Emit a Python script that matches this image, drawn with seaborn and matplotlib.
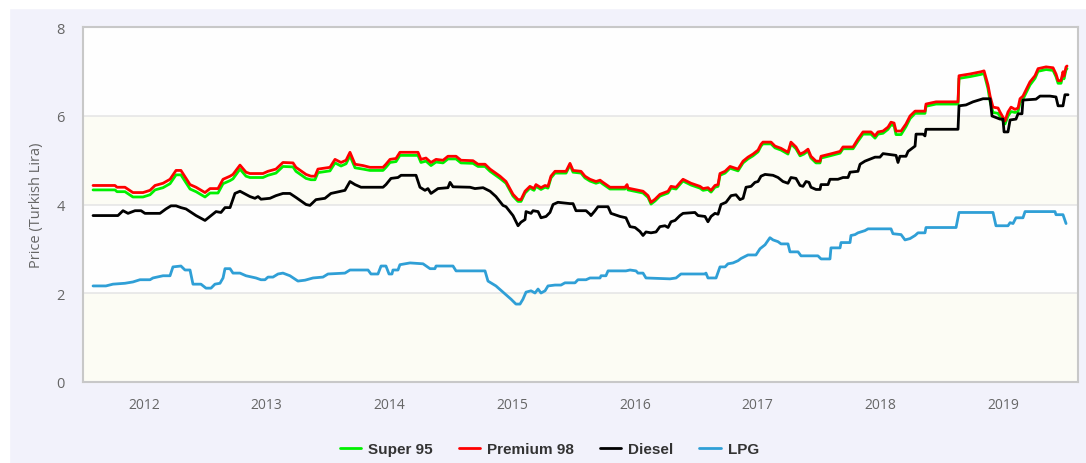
import numpy as np
import pandas as pd
import seaborn as sns
import matplotlib.pyplot as plt
from matplotlib.lines import Line2D
from matplotlib.patches import Rectangle

# gasoline prices (Super 95 / Premium 98 share the same change dates)
fuel_dates = [
    2011.585, 2011.764, 2011.780, 2011.845, 2011.910, 2011.992, 2012.049, 2012.090, 2012.155, 2012.212,
    2012.261, 2012.301, 2012.375, 2012.424, 2012.497, 2012.538, 2012.603, 2012.644, 2012.701, 2012.725,
    2012.782, 2012.831, 2012.863, 2012.969, 2013.010, 2013.075, 2013.132, 2013.214, 2013.238, 2013.320,
    2013.360, 2013.393, 2013.417, 2013.515, 2013.556, 2013.605, 2013.646, 2013.678, 2013.719, 2013.784,
    2013.841, 2013.947, 2013.971, 2014.004, 2014.053, 2014.085, 2014.232, 2014.256, 2014.297, 2014.338,
    2014.379, 2014.436, 2014.476, 2014.542, 2014.582, 2014.680, 2014.721, 2014.778, 2014.819, 2014.900,
    2014.949, 2015.006, 2015.047, 2015.071, 2015.104, 2015.144, 2015.177, 2015.193, 2015.234, 2015.267,
    2015.291, 2015.315, 2015.348, 2015.438, 2015.470, 2015.495, 2015.560, 2015.592, 2015.633, 2015.682,
    2015.715, 2015.739, 2015.796, 2015.918, 2015.935, 2015.943, 2016.065, 2016.106, 2016.130, 2016.163,
    2016.203, 2016.269, 2016.293, 2016.334, 2016.374, 2016.391, 2016.456, 2016.529, 2016.554, 2016.594,
    2016.619, 2016.651, 2016.676, 2016.692, 2016.733, 2016.774, 2016.839, 2016.880, 2016.920, 2016.961,
    2017.002, 2017.026, 2017.042, 2017.108, 2017.140, 2017.189, 2017.246, 2017.270, 2017.311, 2017.344,
    2017.376, 2017.409, 2017.433, 2017.474, 2017.507, 2017.515, 2017.588, 2017.670, 2017.694, 2017.776,
    2017.816, 2017.857, 2017.922, 2017.955, 2017.979, 2018.020, 2018.061, 2018.085, 2018.110, 2018.126,
    2018.167, 2018.207, 2018.240, 2018.281, 2018.362, 2018.370, 2018.452, 2018.631, 2018.639, 2018.729,
    2018.818, 2018.843, 2018.875, 2018.892, 2018.916, 2018.957, 2018.973, 2019.014, 2019.038, 2019.063,
    2019.095, 2019.120, 2019.136, 2019.160, 2019.217, 2019.258, 2019.283, 2019.348, 2019.405, 2019.429,
    2019.446, 2019.470, 2019.486, 2019.494, 2019.511, 2019.519,
]
premium98 = [
    4.43, 4.43, 4.39, 4.39, 4.27, 4.27, 4.32, 4.43, 4.48, 4.57,
    4.77, 4.77, 4.45, 4.39, 4.27, 4.36, 4.36, 4.57, 4.64, 4.68,
    4.89, 4.73, 4.70, 4.70, 4.75, 4.80, 4.95, 4.94, 4.84, 4.68,
    4.64, 4.64, 4.80, 4.84, 5.02, 4.95, 5.00, 5.18, 4.91, 4.88,
    4.84, 4.84, 4.91, 5.02, 5.04, 5.18, 5.18, 5.02, 5.05, 4.95,
    5.02, 5.00, 5.09, 5.09, 5.00, 4.99, 4.91, 4.91, 4.80, 4.64,
    4.52, 4.23, 4.11, 4.11, 4.30, 4.41, 4.36, 4.45, 4.38, 4.43,
    4.41, 4.64, 4.75, 4.75, 4.93, 4.77, 4.75, 4.64, 4.57, 4.52,
    4.55, 4.50, 4.39, 4.39, 4.45, 4.37, 4.30, 4.20, 4.05, 4.12,
    4.23, 4.30, 4.41, 4.39, 4.52, 4.57, 4.48, 4.41, 4.36, 4.38,
    4.32, 4.43, 4.45, 4.70, 4.75, 4.86, 4.80, 4.98, 5.07, 5.14,
    5.23, 5.36, 5.41, 5.41, 5.32, 5.27, 5.18, 5.41, 5.30, 5.14,
    5.18, 5.25, 5.09, 4.98, 4.98, 5.09, 5.14, 5.20, 5.30, 5.30,
    5.48, 5.64, 5.64, 5.55, 5.64, 5.66, 5.75, 5.86, 5.84, 5.66,
    5.66, 5.82, 6.00, 6.11, 6.11, 6.27, 6.32, 6.32, 6.91, 6.95,
    7.00, 7.02, 6.70, 6.45, 6.20, 6.18, 6.09, 5.89, 6.09, 6.20,
    6.15, 6.18, 6.39, 6.45, 6.77, 6.91, 7.07, 7.11, 7.09, 6.95,
    6.80, 6.80, 7.00, 6.90, 7.11, 7.13,
]
super95 = [
    4.33, 4.33, 4.29, 4.29, 4.17, 4.17, 4.22, 4.33, 4.38, 4.47,
    4.67, 4.67, 4.35, 4.29, 4.17, 4.26, 4.26, 4.47, 4.54, 4.58,
    4.80, 4.64, 4.61, 4.61, 4.66, 4.71, 4.86, 4.85, 4.75, 4.59,
    4.56, 4.56, 4.72, 4.76, 4.94, 4.87, 4.92, 5.10, 4.83, 4.80,
    4.77, 4.77, 4.84, 4.95, 4.97, 5.11, 5.11, 4.95, 4.98, 4.88,
    4.96, 4.94, 5.03, 5.03, 4.94, 4.93, 4.86, 4.86, 4.75, 4.59,
    4.48, 4.19, 4.07, 4.07, 4.26, 4.37, 4.32, 4.41, 4.34, 4.39,
    4.37, 4.60, 4.71, 4.71, 4.89, 4.73, 4.71, 4.60, 4.53, 4.48,
    4.51, 4.46, 4.35, 4.35, 4.41, 4.33, 4.26, 4.16, 4.01, 4.08,
    4.19, 4.26, 4.37, 4.35, 4.48, 4.53, 4.44, 4.37, 4.32, 4.34,
    4.28, 4.39, 4.41, 4.66, 4.71, 4.82, 4.76, 4.94, 5.03, 5.10,
    5.19, 5.32, 5.37, 5.37, 5.28, 5.23, 5.14, 5.37, 5.26, 5.10,
    5.14, 5.21, 5.05, 4.94, 4.94, 5.05, 5.10, 5.16, 5.26, 5.26,
    5.43, 5.59, 5.59, 5.50, 5.59, 5.61, 5.70, 5.80, 5.78, 5.58,
    5.58, 5.76, 5.94, 6.06, 6.06, 6.22, 6.27, 6.27, 6.85, 6.89,
    6.94, 6.96, 6.62, 6.33, 6.08, 6.06, 5.99, 5.82, 6.00, 6.10,
    6.08, 6.10, 6.30, 6.38, 6.70, 6.85, 7.01, 7.05, 7.03, 6.89,
    6.74, 6.74, 6.94, 6.84, 7.05, 7.07,
]

diesel_dates = [
    2011.585, 2011.788, 2011.829, 2011.870, 2011.927, 2011.976, 2012.008, 2012.130, 2012.179, 2012.220,
    2012.261, 2012.301, 2012.342, 2012.375, 2012.424, 2012.497, 2012.546, 2012.587, 2012.627, 2012.660,
    2012.701, 2012.741, 2012.782, 2012.863, 2012.904, 2012.929, 2012.953, 2013.026, 2013.075, 2013.132,
    2013.189, 2013.238, 2013.320, 2013.352, 2013.401, 2013.474, 2013.523, 2013.605, 2013.637, 2013.678,
    2013.719, 2013.768, 2013.947, 2013.971, 2014.012, 2014.069, 2014.094, 2014.216, 2014.248, 2014.289,
    2014.313, 2014.338, 2014.395, 2014.476, 2014.493, 2014.517, 2014.656, 2014.696, 2014.762, 2014.819,
    2014.867, 2014.924, 2014.949, 2015.006, 2015.047, 2015.071, 2015.104, 2015.112, 2015.153, 2015.169,
    2015.210, 2015.234, 2015.275, 2015.307, 2015.332, 2015.372, 2015.470, 2015.495, 2015.519, 2015.601,
    2015.633, 2015.641, 2015.674, 2015.698, 2015.780, 2015.804, 2015.878, 2015.926, 2015.959, 2016.000,
    2016.040, 2016.065, 2016.089, 2016.130, 2016.171, 2016.203, 2016.244, 2016.269, 2016.293, 2016.326,
    2016.366, 2016.391, 2016.488, 2016.513, 2016.570, 2016.594, 2016.619, 2016.651, 2016.676, 2016.700,
    2016.741, 2016.782, 2016.822, 2016.855, 2016.880, 2016.904, 2016.945, 2016.977, 2017.002, 2017.026,
    2017.059, 2017.124, 2017.165, 2017.205, 2017.246, 2017.270, 2017.311, 2017.344, 2017.368, 2017.393,
    2017.417, 2017.433, 2017.474, 2017.507, 2017.515, 2017.572, 2017.588, 2017.653, 2017.694, 2017.735,
    2017.751, 2017.816, 2017.833, 2017.873, 2017.955, 2017.995, 2018.020, 2018.126, 2018.142, 2018.158,
    2018.207, 2018.224, 2018.281, 2018.289, 2018.346, 2018.362, 2018.370, 2018.631, 2018.639, 2018.696,
    2018.753, 2018.835, 2018.892, 2018.908, 2018.973, 2018.997, 2019.006, 2019.038, 2019.055, 2019.103,
    2019.120, 2019.152, 2019.160, 2019.266, 2019.299, 2019.380, 2019.429, 2019.446, 2019.486, 2019.502,
    2019.527,
]
diesel = [
    3.75, 3.75, 3.86, 3.80, 3.86, 3.86, 3.80, 3.80, 3.90, 3.97,
    3.97, 3.93, 3.90, 3.84, 3.75, 3.64, 3.75, 3.84, 3.82, 3.93,
    3.93, 4.25, 4.30, 4.18, 4.14, 4.18, 4.12, 4.14, 4.20, 4.25,
    4.25, 4.16, 4.00, 3.98, 4.11, 4.14, 4.25, 4.30, 4.32, 4.52,
    4.45, 4.39, 4.39, 4.45, 4.59, 4.61, 4.66, 4.66, 4.39, 4.32,
    4.36, 4.25, 4.36, 4.38, 4.50, 4.40, 4.39, 4.36, 4.38, 4.30,
    4.18, 3.98, 3.95, 3.75, 3.52, 3.60, 3.66, 3.84, 3.80, 3.86,
    3.84, 3.70, 3.73, 3.82, 4.00, 4.05, 4.02, 4.02, 3.86, 3.86,
    3.78, 3.75, 3.86, 3.95, 3.95, 3.80, 3.73, 3.70, 3.50, 3.48,
    3.39, 3.30, 3.38, 3.36, 3.38, 3.50, 3.52, 3.48, 3.61, 3.64,
    3.75, 3.80, 3.82, 3.75, 3.73, 3.61, 3.73, 3.80, 3.78, 4.00,
    4.05, 4.20, 4.22, 4.11, 4.14, 4.39, 4.41, 4.50, 4.52, 4.64,
    4.68, 4.66, 4.61, 4.52, 4.48, 4.61, 4.59, 4.43, 4.41, 4.52,
    4.50, 4.39, 4.34, 4.34, 4.45, 4.45, 4.57, 4.57, 4.61, 4.61,
    4.73, 4.75, 4.91, 4.98, 5.07, 5.07, 5.15, 5.11, 4.95, 5.09,
    5.09, 5.20, 5.32, 5.59, 5.59, 5.55, 5.70, 5.70, 6.23, 6.25,
    6.32, 6.39, 6.39, 6.00, 5.93, 5.93, 5.64, 5.64, 5.91, 5.93,
    6.05, 6.05, 6.36, 6.38, 6.45, 6.45, 6.43, 6.23, 6.23, 6.48,
    6.48,
]

lpg_dates = [
    2011.585, 2011.690, 2011.747, 2011.845, 2011.910, 2011.967, 2012.049, 2012.073, 2012.155, 2012.212,
    2012.236, 2012.301, 2012.334, 2012.375, 2012.399, 2012.464, 2012.505, 2012.546, 2012.578, 2012.619,
    2012.644, 2012.660, 2012.701, 2012.725, 2012.782, 2012.831, 2012.912, 2012.953, 2012.986, 2013.010,
    2013.051, 2013.092, 2013.132, 2013.189, 2013.254, 2013.312, 2013.377, 2013.458, 2013.499, 2013.637,
    2013.678, 2013.825, 2013.849, 2013.906, 2013.931, 2013.971, 2013.996, 2014.020, 2014.028, 2014.069,
    2014.085, 2014.167, 2014.273, 2014.330, 2014.370, 2014.379, 2014.517, 2014.542, 2014.778, 2014.802,
    2014.867, 2014.924, 2014.990, 2015.030, 2015.063, 2015.087, 2015.112, 2015.153, 2015.185, 2015.210,
    2015.234, 2015.267, 2015.291, 2015.348, 2015.397, 2015.429, 2015.511, 2015.535, 2015.601, 2015.633,
    2015.715, 2015.723, 2015.763, 2015.780, 2015.926, 2015.959, 2016.008, 2016.024, 2016.065, 2016.089,
    2016.285, 2016.334, 2016.374, 2016.570, 2016.578, 2016.594, 2016.660, 2016.692, 2016.733, 2016.757,
    2016.798, 2016.839, 2016.863, 2016.920, 2016.985, 2017.018, 2017.059, 2017.099, 2017.124, 2017.165,
    2017.189, 2017.246, 2017.262, 2017.328, 2017.352, 2017.490, 2017.515, 2017.588, 2017.596, 2017.670,
    2017.678, 2017.751, 2017.759, 2017.792, 2017.816, 2017.873, 2017.898, 2018.085, 2018.101, 2018.167,
    2018.199, 2018.240, 2018.281, 2018.305, 2018.362, 2018.370, 2018.615, 2018.639, 2018.916, 2018.940,
    2019.038, 2019.055, 2019.079, 2019.103, 2019.160, 2019.177, 2019.421, 2019.429, 2019.486, 2019.511,
]
lpg = [
    2.16, 2.16, 2.20, 2.22, 2.25, 2.30, 2.30, 2.34, 2.39, 2.39,
    2.59, 2.61, 2.52, 2.52, 2.20, 2.20, 2.11, 2.11, 2.20, 2.22,
    2.34, 2.55, 2.55, 2.45, 2.45, 2.39, 2.34, 2.30, 2.30, 2.36,
    2.36, 2.43, 2.45, 2.39, 2.27, 2.29, 2.34, 2.36, 2.43, 2.45,
    2.52, 2.52, 2.43, 2.43, 2.61, 2.61, 2.43, 2.43, 2.52, 2.52,
    2.64, 2.68, 2.66, 2.55, 2.55, 2.61, 2.61, 2.50, 2.50, 2.27,
    2.16, 2.02, 1.86, 1.75, 1.75, 1.86, 2.02, 2.05, 2.00, 2.09,
    2.00, 2.05, 2.16, 2.18, 2.18, 2.23, 2.23, 2.30, 2.30, 2.34,
    2.34, 2.39, 2.39, 2.50, 2.50, 2.52, 2.50, 2.45, 2.45, 2.34,
    2.32, 2.34, 2.43, 2.43, 2.45, 2.34, 2.34, 2.59, 2.59, 2.66,
    2.68, 2.73, 2.78, 2.86, 2.86, 3.00, 3.09, 3.25, 3.20, 3.16,
    3.11, 3.11, 2.93, 2.93, 2.84, 2.84, 2.77, 2.77, 3.02, 3.02,
    3.14, 3.14, 3.30, 3.32, 3.36, 3.41, 3.45, 3.45, 3.34, 3.32,
    3.20, 3.23, 3.30, 3.36, 3.36, 3.48, 3.48, 3.82, 3.82, 3.52,
    3.52, 3.59, 3.57, 3.70, 3.70, 3.84, 3.84, 3.77, 3.77, 3.57,
]

fuel_names = ["Super 95", "Premium 98", "Diesel", "LPG"]
fuel_colors = ["#00f000", "#ff0000", "#000000", "#2f9fd6"]
year_ticks = [2012, 2013, 2014, 2015, 2016, 2017, 2018, 2019]
price_ticks = [0, 2, 4, 6, 8]

df = pd.concat([
    pd.DataFrame({"date": fuel_dates, "price": super95, "fuel": "Super 95"}),
    pd.DataFrame({"date": fuel_dates, "price": premium98, "fuel": "Premium 98"}),
    pd.DataFrame({"date": diesel_dates, "price": diesel, "fuel": "Diesel"}),
    pd.DataFrame({"date": lpg_dates, "price": lpg, "fuel": "LPG"}),
], ignore_index=True)

sns.set_style("white")
plt.rcParams['font.family'] = ['Open Sans', 'DejaVu Sans']

fig = plt.figure(figsize=(10.86, 4.64), dpi=100, facecolor="#f2f2fb")
# white strips at top and left edge of the screenshot
fig.patches.append(Rectangle((0, 0.981), 1, 0.019, transform=fig.transFigure, color="white", zorder=0))
fig.patches.append(Rectangle((0, 0), 0.008, 1, transform=fig.transFigure, color="white", zorder=0))
ax = fig.add_axes([0.0764, 0.1756, 0.9162, 0.763])
ax.set_facecolor("#fdfdfd")

# alternating bands
for lo, hi, c in [(0, 2, "#fcfcf4"), (2, 4, "#fefefe"), (4, 6, "#fcfcf4"), (6, 8, "#fefefe")]:
    ax.axhspan(lo, hi, color=c, zorder=0, lw=0)
for v in [2, 4, 6]:
    ax.axhline(v, color="#e6e6e6", lw=1.2, zorder=1)

palette = dict(zip(fuel_names, fuel_colors))
sns.lineplot(data=df, x="date", y="price", hue="fuel", hue_order=fuel_names,
             palette=palette, estimator=None, sort=False, linewidth=2.0,
             legend=False, ax=ax, zorder=3)

ax.set_xlim(2011.503, 2019.608)
ax.set_ylim(0, 8)
ax.set_xticks(year_ticks)
ax.set_xticklabels([str(y) for y in year_ticks])
ax.set_yticks(price_ticks)
ax.set_xlabel("")
ax.set_ylabel("Price (Turkish Lira)", color="#666666", fontsize=10.5)
ax.yaxis.set_label_coords(-0.039, 0.5)

ax.tick_params(axis="x", colors="#ccd6eb", length=7, width=1, pad=4, labelcolor="#666666", labelsize=10)
ax.tick_params(axis="y", length=0, pad=13, labelcolor="#666666", labelsize=10.5)

for side in ["left", "bottom", "top", "right"]:
    ax.spines[side].set_color("#c8c8c8")
    ax.spines[side].set_linewidth(1.5)

handles = [Line2D([0], [0], color=c, lw=2.0) for c in fuel_colors]
leg = ax.legend(handles, fuel_names, loc="center", bbox_to_anchor=(0.506, 0.03),
                bbox_transform=fig.transFigure, ncol=4, frameon=False,
                handlelength=1.4, handletextpad=0.45, columnspacing=1.7,
                prop={"family": ["Liberation Sans", "DejaVu Sans"], "weight": "bold", "size": 11})
for t in leg.get_texts():
    t.set_color("#333333")

fig.savefig("out.png", dpi=100, facecolor=fig.get_facecolor())
